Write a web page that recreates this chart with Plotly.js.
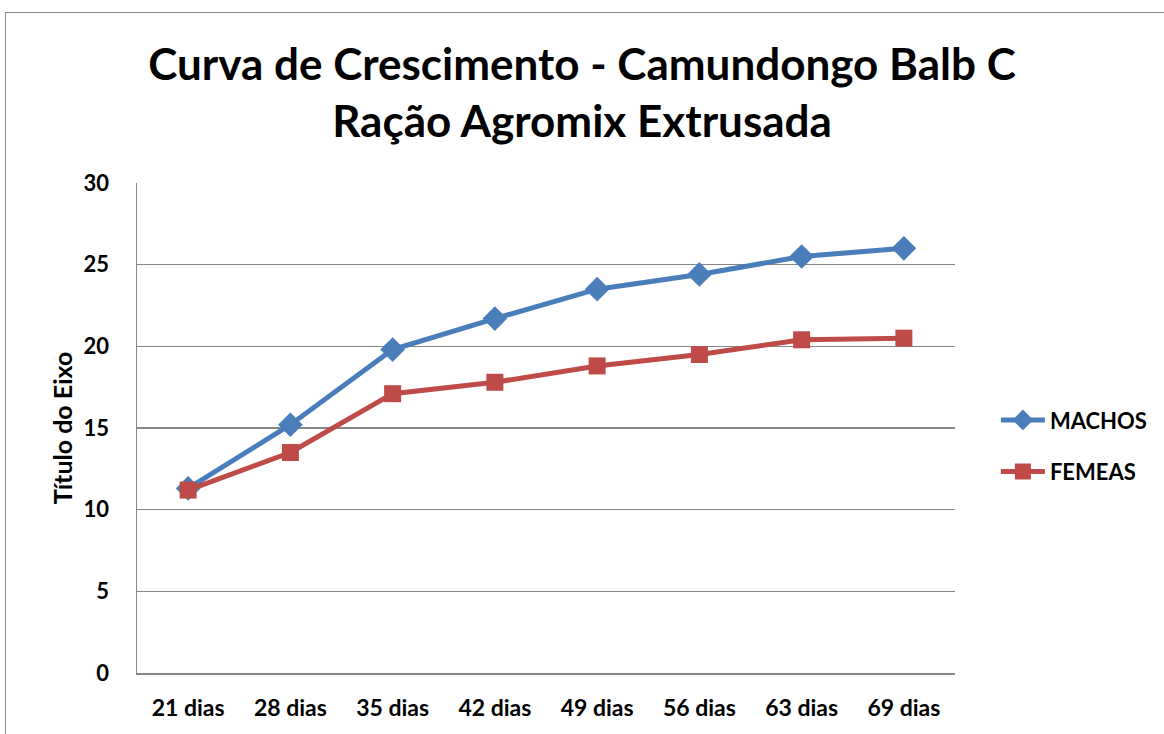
<!DOCTYPE html>
<html><head><meta charset="utf-8">
<script src="https://cdn.plot.ly/plotly-3.0.1.min.js"></script>
<style>
html,body{margin:0;padding:0;background:#fff;}
#chart{width:1164px;height:734px;}
#frame{position:absolute;left:5px;top:12px;width:1300px;height:900px;border:1.5px solid #8a8a8a;pointer-events:none;}
</style></head>
<body>
<div id="chart"></div>
<div id="frame"></div>
<script>
const categories = ["21 dias","28 dias","35 dias","42 dias","49 dias","56 dias","63 dias","69 dias"];
const machos = [11.3, 15.2, 19.8, 21.7, 23.5, 24.4, 25.5, 26.0];
const femeas = [11.2, 13.5, 17.1, 17.8, 18.8, 19.5, 20.4, 20.5];
const yTicks = [0,5,10,15,20,25,30];

const F = "Lato, 'Open Sans', sans-serif";
const traces = [
  {x: categories, y: machos, name: "MACHOS", type: "scatter", mode: "lines+markers",
   legendgroup: "a",
   line: {color: "#4a7ebb", width: 5}, marker: {symbol: "diamond", size: 19, color: "#4a7ebb"}},
  {x: categories, y: femeas, name: "FEMEAS", type: "scatter", mode: "lines+markers",
   legendgroup: "b",
   line: {color: "#be4b48", width: 5}, marker: {symbol: "square", size: 17, color: "#be4b48"}}
];
const layout = {
  width: 1164, height: 734,
  margin: {l: 137, r: 207, t: 183, b: 61},
  paper_bgcolor: "#fff", plot_bgcolor: "#fff",
  title: {text: "<b>Curva de Crescimento - Camundongo Balb C<br>Ração Agromix Extrusada</b>",
          font: {family: F, size: 44, color: "#000"}, x: 0.5, xanchor: "center", y: 0.891, yanchor: "middle"},
  showlegend: true,
  legend: {x: 1.05, y: 0.463, xanchor: "left", yanchor: "middle", font: {family: F, size: 22, color: "#000", weight: "bold"},
           tracegroupgap: 20, itemwidth: 44, bgcolor: "rgba(0,0,0,0)"},
  xaxis: {type: "category", range: [-0.5, 7.5], showgrid: false, showline: true, linecolor: "#868686", linewidth: 1.5,
          ticks: "", tickfont: {family: F, size: 23, color: "#000", weight: "bold"}, fixedrange: true, ticklabelstandoff: 14},
  yaxis: {range: [0, 30], tickvals: yTicks, showgrid: true, gridcolor: "#868686", gridwidth: 1.5,
          showline: true, linecolor: "#868686", linewidth: 1.5, zeroline: false, ticks: "",
          tickfont: {family: F, size: 22, color: "#000", weight: "bold"}, ticklabelstandoff: 22,
          title: {text: "<b>Título do Eixo</b>", font: {family: F, size: 25, color: "#000"}, standoff: 4}}
};
Plotly.newPlot("chart", traces, layout, {displayModeBar: false, staticPlot: true});
</script>
</body></html>
